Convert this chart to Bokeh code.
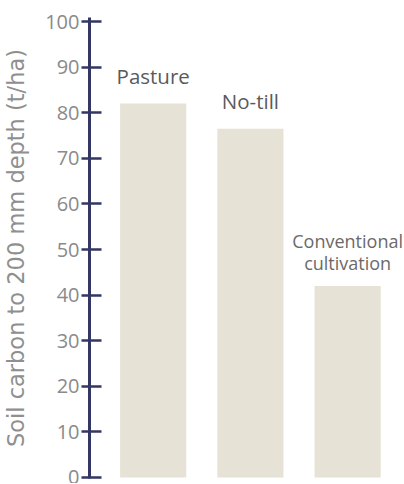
from bokeh.plotting import figure
from bokeh.models import ColumnDataSource, Range1d, FixedTicker, CDSView, IndexFilter
from bokeh.core.properties import value
from bokeh.embed import file_html
from bokeh.resources import INLINE

# Data
categories = ["Pasture", "No-till", "Conventional\ncultivation"]
soil_carbon = [82, 76.5, 42]
y_ticks = [0, 10, 20, 30, 40, 50, 60, 70, 80, 90, 100]

xs = list(range(len(categories)))
src = ColumnDataSource(dict(x=xs, top=soil_carbon, label=categories))

p = figure(width=404, height=483, output_backend="svg", toolbar_location=None,
           x_range=Range1d(-0.655, 2.585), y_range=Range1d(-0.22, 100.88),
           min_border_left=88, min_border_right=0, min_border_top=17, min_border_bottom=5)

p.vbar(x="x", top="top", width=0.68, bottom=0, source=src,
       fill_color="#e6e2d6", line_color=None)

big = CDSView(filter=IndexFilter([0, 1]))
small = CDSView(filter=IndexFilter([2]))
p.text(x="x", y="top", text="label", source=src, view=big, text_align="center",
       text_baseline="alphabetic", y_offset=-28, text_font=value("Open Sans"),
       text_font_size="20.5px", text_color="#5a5a5a")
p.text(x="x", y="top", text="label", source=src, view=small, text_align="center",
       text_baseline="bottom", y_offset=-11, text_font=value("Open Sans"),
       text_font_size="18px", text_color="#6a6a6a", text_line_height=0.92)

p.xaxis.visible = False
p.xgrid.visible = False
p.ygrid.visible = False
p.outline_line_color = None

ax = p.yaxis[0]
ax.ticker = FixedTicker(ticks=y_ticks)
ax.axis_line_color = "#343764"
ax.axis_line_width = 3
ax.major_tick_line_color = "#343764"
ax.major_tick_line_width = 2.5
ax.major_tick_out = 8
ax.major_tick_in = 12
ax.minor_tick_line_color = None
ax.major_label_standoff = 2
ax.major_label_text_font = "Open Sans"
ax.major_label_text_font_size = "20px"
ax.major_label_text_color = "#8a8a8a"
ax.axis_label = "Soil carbon to 200 mm depth (t/ha)"
ax.axis_label_text_font = "DejaVu Sans"
ax.axis_label_text_font_style = "normal"
ax.axis_label_text_font_size = "22.5px"
ax.axis_label_text_color = "#8f8f8f"
ax.axis_label_standoff = 13

open("out.html", "w").write(file_html(p, INLINE))
